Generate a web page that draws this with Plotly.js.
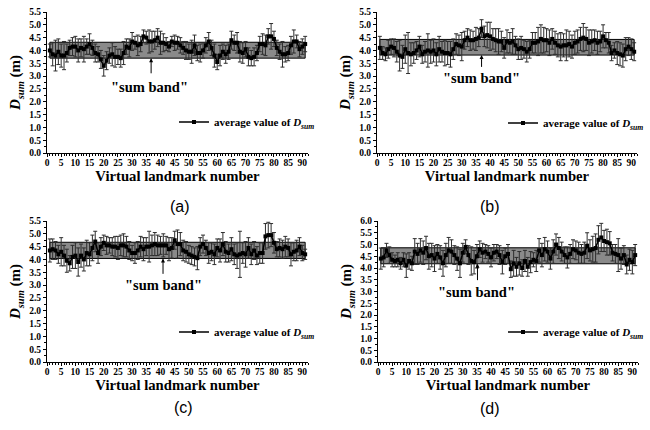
<!DOCTYPE html>
<html>
<head>
<meta charset="utf-8">
<script src="https://cdn.plot.ly/plotly-3.0.1.min.js"></script>
<style>html,body{margin:0;padding:0;background:#fff}#chart{width:650px;height:430px}</style>
</head>
<body>
<div id="chart"></div>
<script>
// Landmark numbers 1..91
const landmarks = [];
for (let i = 1; i <= 91; i++) landmarks.push(i);

const panelLabels = ['(a)', '(b)', '(c)', '(d)'];
const xTickLabels = ['0','5','10','15','20','25','30','35','40','45','50','55','60','65','70','75','80','85','90'];
const legendName = 'average value of <i>D</i><sub><i>sum</i></sub>';

const valsA = [4.00,3.85,3.80,3.95,3.80,3.80,3.90,4.10,4.15,4.15,
  4.00,4.10,4.05,4.15,4.25,4.10,3.90,3.85,3.65,3.40,
  3.60,3.80,3.85,3.75,3.75,3.70,3.90,4.15,4.10,4.35,
  4.30,4.20,4.25,4.55,4.50,4.35,4.35,4.40,4.50,4.30,
  4.30,4.25,4.15,4.35,4.30,4.30,4.20,4.10,4.00,3.95,
  3.95,4.20,3.90,3.90,4.00,4.20,4.35,4.10,3.80,3.55,
  3.80,3.95,3.85,3.95,4.40,4.30,4.30,3.95,3.90,4.05,
  3.75,3.70,3.75,3.90,4.25,4.25,4.20,4.55,4.55,4.45,
  4.10,3.95,3.85,3.85,3.90,4.20,4.35,4.35,4.05,4.15,
  4.25];
const errA = [0.25,0.45,0.60,0.50,0.45,0.55,0.35,0.30,0.35,0.40,
  0.45,0.35,0.50,0.30,0.40,0.30,0.35,0.30,0.35,0.40,
  0.35,0.30,0.45,0.40,0.30,0.35,0.45,0.30,0.35,0.35,
  0.25,0.40,0.30,0.25,0.25,0.45,0.40,0.35,0.35,0.45,
  0.35,0.25,0.20,0.20,0.30,0.25,0.30,0.25,0.35,0.30,
  0.45,0.40,0.30,0.35,0.30,0.30,0.35,0.30,0.45,0.30,
  0.40,0.30,0.35,0.30,0.35,0.30,0.40,0.40,0.40,0.30,
  0.35,0.30,0.35,0.30,0.30,0.40,0.40,0.30,0.50,0.30,
  0.30,0.30,0.50,0.30,0.30,0.35,0.45,0.25,0.30,0.30,
  0.30];

const valsB = [4.10,3.90,3.85,4.05,4.15,4.10,3.95,3.80,3.75,4.05,
  3.90,3.85,3.90,4.00,4.15,3.85,3.95,4.00,3.95,4.00,
  3.85,4.05,3.95,3.90,3.90,3.85,4.05,4.25,4.20,4.15,
  4.40,4.50,4.40,4.40,4.45,4.50,4.85,4.55,4.60,4.55,
  4.45,4.40,4.35,4.35,4.10,4.35,4.30,4.35,4.20,4.05,
  4.10,4.05,3.95,4.05,4.30,4.30,4.35,4.45,4.40,4.40,
  4.30,4.45,4.30,4.20,4.15,4.20,4.20,4.25,4.15,4.30,
  4.35,4.45,4.50,4.45,4.30,4.35,4.40,4.30,4.35,4.55,
  4.40,4.30,3.90,4.00,3.90,3.85,3.80,4.05,4.15,4.05,
  3.95];
const errB = [0.45,0.25,0.25,0.35,0.30,0.35,0.40,0.60,0.45,0.55,
  0.80,0.45,0.40,0.35,0.40,0.35,0.40,0.65,0.45,0.45,
  0.45,0.50,0.40,0.50,0.45,0.50,0.40,0.40,0.40,0.55,
  0.35,0.35,0.40,0.35,0.45,0.35,0.35,0.40,0.50,0.55,
  0.40,0.45,0.50,0.40,0.40,0.45,0.40,0.50,0.35,0.40,
  0.45,0.35,0.40,0.35,0.40,0.40,0.55,0.55,0.50,0.45,
  0.50,0.40,0.45,0.45,0.55,0.45,0.60,0.50,0.45,0.45,
  0.45,0.45,0.55,0.45,0.50,0.45,0.40,0.45,0.40,0.45,
  0.30,0.40,0.30,0.30,0.45,0.45,0.45,0.45,0.35,0.40,
  0.35];

const valsC = [4.35,4.40,4.35,4.20,4.30,4.15,3.95,3.85,4.10,4.15,
  3.90,4.15,4.00,4.25,4.20,4.45,4.70,4.25,4.50,4.65,
  4.55,4.55,4.50,4.50,4.45,4.55,4.55,4.50,4.35,4.25,
  4.25,4.35,4.50,4.40,4.50,4.50,4.55,4.60,4.55,4.55,
  4.55,4.55,4.40,4.45,4.75,4.60,4.60,4.35,4.30,4.20,
  4.15,4.10,4.05,4.50,4.60,4.45,4.25,4.30,4.20,4.45,
  4.35,4.60,4.30,4.25,4.40,4.20,4.15,4.20,4.25,4.20,
  4.45,4.20,4.35,4.15,4.25,4.25,4.90,4.95,4.95,4.65,
  4.40,4.45,4.40,4.50,4.45,4.20,4.30,4.35,4.50,4.25,
  4.20];
const errC = [0.45,0.40,0.35,0.35,0.55,0.40,0.45,0.30,0.45,0.50,
  0.55,0.45,0.45,0.50,0.45,0.50,0.40,0.40,0.35,0.30,
  0.35,0.30,0.35,0.40,0.45,0.40,0.45,0.40,0.35,0.30,
  0.40,0.35,0.40,0.45,0.35,0.60,0.40,0.45,0.40,0.35,
  0.45,0.35,0.45,0.40,0.35,0.55,0.45,0.40,0.40,0.35,
  0.35,0.35,0.45,0.35,0.35,0.30,0.40,0.35,0.40,0.35,
  0.45,0.45,0.40,0.35,0.45,0.40,0.50,0.90,0.40,0.50,
  0.40,0.40,0.35,0.35,0.40,0.40,0.50,0.50,0.45,0.40,
  0.30,0.35,0.35,0.40,0.35,0.45,0.35,0.40,0.35,0.30,
  0.20];

const valsD = [4.40,4.45,4.75,4.55,4.35,4.30,4.35,4.20,4.35,4.10,
  4.30,4.20,4.70,4.60,4.75,4.65,4.85,4.50,4.55,4.40,
  4.60,4.45,4.20,4.55,4.75,4.70,4.55,4.40,4.20,4.65,
  4.90,4.55,4.30,4.25,4.50,4.80,4.65,4.70,4.60,4.45,
  4.65,4.70,4.55,4.25,4.50,4.60,3.95,4.20,4.05,4.20,
  4.00,4.30,4.05,4.25,4.35,4.30,4.75,4.55,4.80,4.70,
  4.40,4.70,5.00,4.85,4.70,4.55,4.45,4.60,4.80,4.75,
  4.65,4.60,4.65,4.95,4.75,4.80,4.85,5.20,5.30,5.15,
  5.10,5.05,4.65,4.60,4.55,4.40,4.55,4.15,4.35,4.25,
  4.55];
const errD = [0.45,0.40,0.30,0.35,0.30,0.25,0.30,0.25,0.30,0.50,
  0.35,0.30,0.55,0.45,0.50,0.50,0.50,0.55,0.50,0.55,
  0.40,0.50,0.55,0.50,0.55,0.50,0.40,0.50,0.60,0.40,
  0.30,0.40,0.60,0.50,0.50,0.35,0.40,0.30,0.35,0.40,
  0.35,0.30,0.40,0.50,0.35,0.40,0.35,0.55,0.40,0.50,
  0.35,0.45,0.40,0.45,0.30,0.45,0.50,0.50,0.50,0.45,
  0.45,0.50,0.45,0.45,0.40,0.35,0.45,0.40,0.40,0.40,
  0.45,0.40,0.45,0.55,0.45,0.55,0.60,0.60,0.60,0.45,
  0.55,0.50,0.35,0.40,0.70,0.45,0.40,0.40,0.45,0.50,
  0.45];

// "sum band" limits per panel
const bandLow  = [3.70, 3.82, 4.04, 4.18];
const bandHigh = [4.32, 4.43, 4.67, 4.86];
const bandStart = 1, bandEnd = 91;
const yMax = [5.5, 5.5, 5.5, 6.0];
// arrow of the "sum band" label: x, tail y; label position
const arrowX = [36.7, 37.0, 40.9, 35.2];
const arrowTail = [3.05, 3.30, 3.38, 3.42];
const labelX = [36.3, 37.1, 40.9, 35.0];
const labelY = [2.57, 2.93, 3.00, 2.98];

const allVals = [valsA, valsB, valsC, valsD];
const allErr = [errA, errB, errC, errD];

const W = 650, H = 430;
const xDom = [[47/W, 308/W], [377/W, 637/W], [47/W, 308/W], [378/W, 638/W]];
const yDom = [[1-153/H, 1-12/H], [1-153/H, 1-12/H], [1-362/H, 1-221/H], [1-362/H, 1-221/H]];
const legendPos = [[174, 122], [503, 123], [174, 332], [503, 332]];
const capPos = [[168, 206], [502, 206], [172, 418], [502, 419]];

const serif = '"Liberation Serif", "Times New Roman", Times, serif';
const data = [];
const layout = {
  width: W, height: H,
  margin: {l: 0, r: 0, t: 0, b: 0},
  paper_bgcolor: '#fff', plot_bgcolor: 'rgba(0,0,0,0)',
  showlegend: true,
  shapes: [], annotations: []
};

for (let p = 0; p < 4; p++) {
  const n = p + 1;
  const xa = n === 1 ? 'x' : 'x' + n;
  const ya = n === 1 ? 'y' : 'y' + n;
  const lg = n === 1 ? 'legend' : 'legend' + n;
  data.push({
    type: 'scatter', mode: 'lines+markers',
    x: landmarks, y: allVals[p],
    xaxis: xa, yaxis: ya, legend: lg,
    name: legendName,
    line: {color: '#000', width: 1.6},
    marker: {symbol: 'square', size: 4, color: '#000'},
    error_y: {type: 'data', array: allErr[p], visible: true, color: '#2e2e2e', thickness: 1, width: 2}
  });
  const axKey = n === 1 ? 'xaxis' : 'xaxis' + n;
  const ayKey = n === 1 ? 'yaxis' : 'yaxis' + n;
  layout[axKey] = {
    domain: xDom[p], anchor: ya, range: [0, 92],
    tickmode: 'array', tickvals: xTickLabels.map(Number), ticktext: xTickLabels,
    ticks: 'outside', ticklen: 3, tickwidth: 1, tickcolor: '#000',
    ticklabelstandoff: -2,
    showline: true, linecolor: '#000', linewidth: 1,
    showgrid: false, zeroline: false,
    tickfont: {family: serif, size: 9.5, weight: 'bold', color: '#000'},
    minor: {dtick: 1, tick0: 0, ticklen: 2, ticks: 'outside', tickcolor: '#000', showgrid: false},
    title: {text: '<b>Virtual landmark number</b>', font: {family: serif, size: 14.7, weight: 'bold', color: '#000'}, standoff: 1}
  };
  layout[ayKey] = {
    domain: yDom[p], anchor: xa, range: [0, yMax[p]],
    tickmode: 'linear', tick0: 0, dtick: 0.5, tickformat: '.1f',
    ticks: 'outside', ticklen: 3, tickwidth: 1, tickcolor: '#000',
    showline: true, linecolor: '#000', linewidth: 1,
    showgrid: false, zeroline: false,
    tickfont: {family: serif, size: 9.5, weight: 'bold', color: '#000'},
    minor: {dtick: 0.25, tick0: 0, ticklen: 2, ticks: 'outside', tickcolor: '#000', showgrid: false},
    title: {text: '<b><i>D</i><sub><i>sum</i></sub> (m)</b>', font: {family: serif, size: 15, weight: 'bold', color: '#000'}, standoff: 4}
  };
  layout[lg] = {
    x: legendPos[p][0] / W, y: 1 - legendPos[p][1] / H,
    xanchor: 'left', yanchor: 'middle',
    bgcolor: 'rgba(0,0,0,0)', borderwidth: 0, itemwidth: 30,
    font: {family: serif, size: 11, weight: 'bold', color: '#000'}
  };
  layout.shapes.push({
    type: 'rect', xref: xa, yref: ya, layer: 'below',
    x0: bandStart, x1: bandEnd, y0: bandLow[p], y1: bandHigh[p],
    fillcolor: '#8a8a8a', line: {color: '#000', width: 1}
  });
  layout.annotations.push({
    xref: xa, yref: ya, axref: xa, ayref: ya,
    x: arrowX[p], y: bandLow[p], ax: arrowX[p], ay: arrowTail[p],
    showarrow: true, arrowhead: 2, arrowsize: 0.8, arrowwidth: 1, arrowcolor: '#000', text: ''
  });
  layout.annotations.push({
    xref: xa, yref: ya, x: labelX[p], y: labelY[p], showarrow: false,
    text: '<b>"sum band"</b>', font: {family: serif, size: 14.5, weight: 'bold', color: '#000'}
  });
  layout.annotations.push({
    xref: 'paper', yref: 'paper', x: capPos[p][0] / W, y: 1 - capPos[p][1] / H,
    showarrow: false, text: panelLabels[p],
    font: {family: '"Liberation Sans", Arial, sans-serif', size: 16, color: '#000'}
  });
}

Plotly.newPlot('chart', data, layout, {displayModeBar: false, staticPlot: true});
</script>
</body>
</html>
